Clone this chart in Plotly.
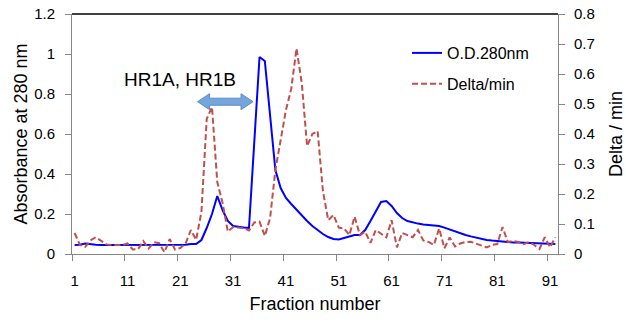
import plotly.graph_objects as go

fractions = list(range(1, 93))

od280 = [0.045, 0.046, 0.052, 0.048, 0.046, 0.045, 0.045, 0.045, 0.045, 0.045,
         0.045, 0.044, 0.044, 0.044, 0.044, 0.044, 0.044, 0.044, 0.044, 0.044,
         0.045, 0.046, 0.05, 0.05, 0.07, 0.13, 0.2, 0.29, 0.22, 0.165,
         0.14, 0.135, 0.132, 0.13, 0.56, 0.985, 0.965, 0.69, 0.42, 0.33,
         0.28, 0.25, 0.22, 0.19, 0.165, 0.14, 0.12, 0.1, 0.085, 0.075,
         0.073, 0.08, 0.09, 0.095, 0.095, 0.12, 0.165, 0.21, 0.26, 0.265,
         0.24, 0.205, 0.18, 0.165, 0.157, 0.152, 0.148, 0.145, 0.142, 0.14,
         0.132, 0.122, 0.112, 0.103, 0.095, 0.088, 0.081, 0.075, 0.07, 0.067,
         0.064, 0.062, 0.06, 0.058, 0.057, 0.056, 0.055, 0.054, 0.053, 0.052,
         0.051, 0.05]

delta_min = [0.07, 0.03, 0.024, 0.045, 0.056, 0.045, 0.032, 0.03, 0.03, 0.03,
             0.035, 0.015, 0.016, 0.043, 0.018, 0.039, 0.036, 0.006, 0.05, 0.015,
             0.02, 0.035, 0.08, 0.047, 0.14, 0.45, 0.49, 0.24, 0.17, 0.075,
             0.09, 0.088, 0.086, 0.078, 0.105, 0.108, 0.06, 0.12, 0.28, 0.38,
             0.48, 0.55, 0.685, 0.57, 0.36, 0.40, 0.41, 0.21, 0.113, 0.13,
             0.088, 0.085, 0.063, 0.125, 0.063, 0.074, 0.037, 0.08, 0.068, 0.055,
             0.113, 0.022, 0.07, 0.062, 0.056, 0.08, 0.045, 0.04, 0.03, 0.085,
             0.019, 0.055, 0.025, 0.035, 0.04, 0.041, 0.035, 0.03, 0.022, 0.03,
             0.033, 0.09, 0.04, 0.043, 0.04, 0.033, 0.04, 0.03, 0.017, 0.056,
             0.022, 0.056]

left_ticks = [0, 0.2, 0.4, 0.6, 0.8, 1.0, 1.2]
right_ticks = [0, 0.1, 0.2, 0.3, 0.4, 0.5, 0.6, 0.7, 0.8]

FONT = "Liberation Sans, Arial, sans-serif"
AXIS_GREY = "#878787"

xcat = [str(f) for f in fractions]

fig = go.Figure()
fig.add_trace(go.Scatter(x=xcat, y=od280, mode="lines", name="O.D.280nm",
                         line=dict(color="#0000FF", width=2),
                         legendgroup="a", yaxis="y"))
fig.add_trace(go.Scatter(x=xcat, y=delta_min, mode="lines", name="Delta/min",
                         line=dict(color="#C0504D", width=2, dash="6px,3px"),
                         legendgroup="b", yaxis="y2"))

# double-headed arrow marking HR1A, HR1B region (left-axis data coords, category index)
x0, x1 = 23.27, 33.77
hl = 2.27
yc, hh, sh = 0.7615, 0.04, 0.0175
path = (f"M {x0},{yc} L {x0+hl},{yc+hh} L {x0+hl},{yc+sh} L {x1-hl},{yc+sh} "
        f"L {x1-hl},{yc+hh} L {x1},{yc} L {x1-hl},{yc-hh} L {x1-hl},{yc-sh} "
        f"L {x0+hl},{yc-sh} L {x0+hl},{yc-hh} Z")
fig.add_shape(type="path", path=path, xref="x", yref="y",
              fillcolor="#74A6DC", line=dict(color="#5B8CC8", width=1))

# top border of plot area
fig.add_shape(type="line", xref="paper", yref="paper", x0=0, x1=1, y0=1, y1=1,
              line=dict(color="#000000", width=1.5))

fig.add_annotation(text="HR1A, HR1B", x=19.9, y=0.875, xref="x", yref="y",
                   showarrow=False, font=dict(size=19, color="#000000", family=FONT),
                   xanchor="center", yanchor="middle")

fig.update_layout(
    width=626, height=323,
    margin=dict(l=72, r=68, t=14, b=69, autoexpand=False),
    paper_bgcolor="white", plot_bgcolor="white",
    font=dict(family=FONT, color="#000000", size=15),
    showlegend=True,
    legend=dict(x=(407 - 72) / (558 - 72), y=(254 - 36) / 240, xanchor="left", yanchor="top",
                bgcolor="rgba(0,0,0,0)", font=dict(size=16, family=FONT),
                tracegroupgap=7, itemwidth=30),
    xaxis=dict(type="category", range=[-0.5, 91.5], tickmode="linear", tick0=0, dtick=10,
               tickson="boundaries", ticks="outside", ticklen=6, tickcolor=AXIS_GREY,
               showline=True, linecolor=AXIS_GREY, linewidth=1, showgrid=False,
               zeroline=False, tickfont=dict(size=15), ticklabelstandoff=13, tickangle=0,
               automargin=False,
               title=dict(text="Fraction number", font=dict(size=18), standoff=9)),
    yaxis=dict(range=[0, 1.2], tickvals=left_ticks, ticks="outside", ticklen=6,
               tickcolor=AXIS_GREY, showline=True, linecolor=AXIS_GREY, linewidth=1,
               showgrid=False, zeroline=False, tickfont=dict(size=15), ticklabelstandoff=7,
               automargin=False,
               title=dict(text="Absorbance at 280 nm", font=dict(size=18), standoff=1)),
    yaxis2=dict(range=[0, 0.8], tickvals=right_ticks, overlaying="y", side="right",
                ticks="outside", ticklen=6, tickcolor=AXIS_GREY, showline=True,
                linecolor=AXIS_GREY, linewidth=1, showgrid=False, zeroline=False,
                tickfont=dict(size=15), ticklabelstandoff=6, automargin=False,
                title=dict(text="Delta / min", font=dict(size=18), standoff=20)),
)

# remove the default 8px page margin so the figure sits at the window's corner
fig.write_html("out.html", config={"displayModeBar": False},
               post_script="document.body.style.margin='0px';")
